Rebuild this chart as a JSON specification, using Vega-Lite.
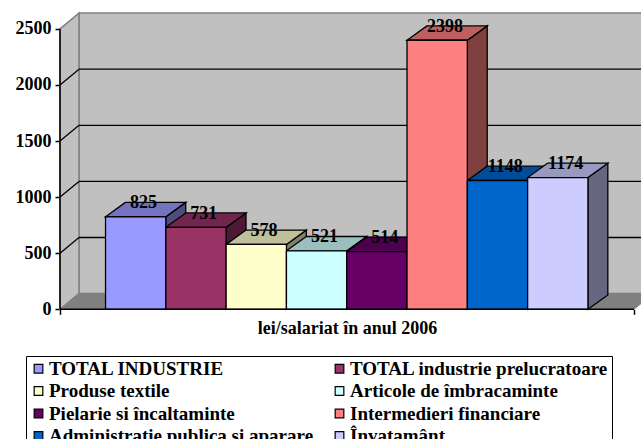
{
"$schema":"https://vega.github.io/schema/vega-lite/v6.json",
"width":581,"height":299.3,
"autosize":{"type":"none"},
"padding":{"left":60,"top":10,"right":0,"bottom":129.7},
"background":"white",
"config":{"view":{"stroke":null},"font":"Liberation Serif"},
"datasets":{
"bars":[
{"name":"TOTAL INDUSTRIE","value":825},
{"name":"TOTAL industrie prelucratoare","value":731},
{"name":"Produse textile","value":578},
{"name":"Articole de îmbracaminte","value":521},
{"name":"Pielarie si încaltaminte","value":514},
{"name":"Intermedieri financiare","value":2398},
{"name":"Administratie publica si aparare","value":1148},
{"name":"Învatamânt","value":1174}],
"grid":[{"tick":0},{"tick":500},{"tick":1000},{"tick":1500},{"tick":2000},{"tick":2500}]
},
"resolve":{"scale":{"fill":"independent"},"axis":{"x":"independent","y":"independent"}},
"layer":[
{"data":{"values":[{}]},
 "mark":{"type":"rect","fill":"#C0C0C0","stroke":"#808080","strokeWidth":1.5,"clip":true},
 "encoding":{
  "x":{"datum":0.315,"type":"quantitative","scale":{"domain":[0,9.635],"nice":false,"zero":false},
    "axis":{"values":[0,9.52],"labels":false,"domain":false,"grid":false,"ticks":true,"tickColor":"black","tickWidth":1.5,"tickSize":5,"title":"lei/salariat în anul 2006","titleFont":"Liberation Serif","titleFontWeight":"bold","titleFontSize":18,"titleColor":"black","titleX":287,"titleY":19,"titleBaseline":"middle"}},
  "x2":{"datum":10},
  "y":{"datum":140,"type":"quantitative","scale":{"domain":[0,2667.6],"nice":false,"zero":false},
    "axis":{"values":[0,500,1000,1500,2000,2500],"format":"d","domain":false,"grid":false,"tickColor":"black","tickWidth":1.5,"tickSize":5,"labelFont":"Liberation Serif","labelFontWeight":"bold","labelFontSize":18,"labelColor":"black","labelPadding":4,"title":null,"labelBaseline":"middle"}},
  "y2":{"datum":2640}}},
{"data":{"name":"grid"},
 "transform":[{"filter":"datum.tick==0"},{"calculate":"[0,1]","as":"t"},{"flatten":["t"]},
   {"calculate":"0.315*datum.t","as":"wx"},{"calculate":"140*datum.t","as":"w0"},{"calculate":"2500+140*datum.t","as":"w1"}],
 "mark":{"type":"area","orient":"vertical","fill":"#C0C0C0","stroke":"#808080","strokeWidth":1.5},
 "encoding":{"x":{"field":"wx","type":"quantitative","axis":null},"y":{"field":"w1","type":"quantitative","axis":null},"y2":{"field":"w0"}}},
{"data":{"name":"grid"},
 "transform":[{"filter":"datum.tick==0"},{"calculate":"[0,1]","as":"t"},{"flatten":["t"]},
   {"calculate":"0.315*datum.t","as":"f0"},{"calculate":"9.52+0.315*datum.t","as":"f1"},{"calculate":"140*datum.t","as":"fy"}],
 "mark":{"type":"area","orient":"horizontal","fill":"#808080","stroke":"#808080","strokeWidth":1,"clip":true},
 "encoding":{"y":{"field":"fy","type":"quantitative","axis":null},"x":{"field":"f0","type":"quantitative","axis":null},"x2":{"field":"f1"}}},
{"data":{"name":"grid"},
 "transform":[{"filter":"datum.tick>0 && datum.tick<2500"},{"calculate":"datum.tick+140","as":"gy"}],
 "mark":{"type":"rule","color":"black","strokeWidth":1.3,"clip":true},
 "encoding":{"x":{"datum":0.315,"type":"quantitative","axis":null},"x2":{"datum":10},"y":{"field":"gy","type":"quantitative","axis":null}}},
{"data":{"name":"grid"},
 "transform":[{"filter":"datum.tick>0 && datum.tick<2500"},{"calculate":"[0,1]","as":"t"},{"flatten":["t"]},
   {"calculate":"0.315*datum.t","as":"gx"},{"calculate":"datum.tick+140*datum.t","as":"gy"}],
 "mark":{"type":"line","color":"black","strokeWidth":1.3},
 "encoding":{"x":{"field":"gx","type":"quantitative","axis":null},"y":{"field":"gy","type":"quantitative","axis":null},"detail":{"field":"tick"}}},
{"data":{"name":"bars"},
 "transform":[{"window":[{"op":"row_number","as":"n"}]},{"calculate":"[0,1]","as":"t"},{"flatten":["t"]},
   {"calculate":"datum.n-0.245+1+0.33*datum.t","as":"sx"},{"calculate":"datum.value+128*datum.t","as":"s1"},{"calculate":"128*datum.t","as":"s0"}],
 "mark":{"type":"area","orient":"vertical","stroke":"black","strokeWidth":1.3},
 "encoding":{"x":{"field":"sx","type":"quantitative","axis":null},"y":{"field":"s1","type":"quantitative","axis":null},"y2":{"field":"s0"},
  "fill":{"field":"name","type":"nominal","sort":null,"legend":null,"scale":{"range":["#4D4D80","#4D1A33","#808066","#668080","#330033","#804040","#003366","#666680"]}}}},
{"data":{"name":"bars"},
 "transform":[{"window":[{"op":"row_number","as":"n"}]},{"calculate":"[0,1]","as":"t"},{"flatten":["t"]},
   {"calculate":"datum.n-0.245+0.33*datum.t","as":"t0"},{"calculate":"datum.n+0.755+0.33*datum.t","as":"t1"},{"calculate":"datum.value+128*datum.t","as":"ty"}],
 "mark":{"type":"area","orient":"horizontal","stroke":"black","strokeWidth":1.3},
 "encoding":{"y":{"field":"ty","type":"quantitative","axis":null},"x":{"field":"t0","type":"quantitative","axis":null},"x2":{"field":"t1"},
  "fill":{"field":"name","type":"nominal","sort":null,"legend":null,"scale":{"range":["#7373BF","#73264D","#BFBF99","#99BFBF","#4D004D","#BF6060","#004C99","#9999BF"]}}}},
{"data":{"name":"bars"},
 "transform":[{"window":[{"op":"row_number","as":"n"}]},{"calculate":"datum.n-0.245","as":"x0"},{"calculate":"datum.n+0.755","as":"x1"}],
 "mark":{"type":"rect","stroke":"black","strokeWidth":1.3},
 "encoding":{"x":{"field":"x0","type":"quantitative","axis":null},"x2":{"field":"x1"},"y":{"field":"value","type":"quantitative","axis":null},"y2":{"datum":0},
  "fill":{"field":"name","type":"nominal",
   "scale":{"domain":["TOTAL INDUSTRIE","Produse textile","Pielarie si încaltaminte","Administratie publica si aparare","TOTAL industrie prelucratoare","Articole de îmbracaminte","Intermedieri financiare","Învatamânt"],"range":["#9999FF","#FFFFCC","#660066","#0066CC","#993366","#CCFFFF","#FF8080","#CCCCFF"]},
   "legend":{"title":null,"orient":"none","legendX":-34,"legendY":346,"columns":2,"symbolType":"square","symbolSize":75,"symbolStrokeColor":"black","symbolStrokeWidth":1.2,"symbolOpacity":1,"labelFont":"Liberation Serif","labelFontWeight":"bold","labelFontSize":19,"labelColor":"black","labelLimit":400,"rowPadding":2.5,"columnPadding":16,"padding":3,"strokeColor":"black","fillColor":"white","labelOffset":1,"gridAlign":"each"}}}},
{"data":{"name":"bars"},
 "transform":[{"window":[{"op":"row_number","as":"n"}]},{"calculate":"datum.n-0.245+0.5+0.13","as":"lx"},{"calculate":"datum.value+122","as":"ly"}],
 "mark":{"type":"text","font":"Liberation Serif","fontWeight":"bold","fontSize":18,"color":"black","baseline":"middle","align":"center"},
 "encoding":{"x":{"field":"lx","type":"quantitative","axis":null},"y":{"field":"ly","type":"quantitative","axis":null},"text":{"field":"value","type":"quantitative"}}},
{"data":{"values":[{}]},
 "mark":{"type":"rule","color":"black","strokeWidth":1.5},
 "encoding":{"x":{"datum":0,"type":"quantitative","axis":null},"x2":{"datum":9.52},"y":{"datum":0,"type":"quantitative","axis":null}}},
{"data":{"values":[{}]},
 "mark":{"type":"rule","color":"black","strokeWidth":1.5},
 "encoding":{"x":{"datum":0,"type":"quantitative","axis":null},"y":{"datum":0,"type":"quantitative","axis":null},"y2":{"datum":2500}}}
]
}
